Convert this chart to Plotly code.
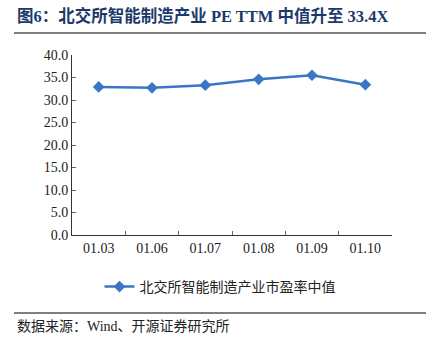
import plotly.graph_objects as go

categories = ["01.03", "01.06", "01.07", "01.08", "01.09", "01.10"]
pe_median = [32.9, 32.7, 33.3, 34.6, 35.5, 33.4]
series_name = "北交所智能制造产业市盈率中值"
title_text = "图6：北交所智能制造产业 PE TTM 中值升至 33.4X"
source_text = "数据来源：Wind、开源证券研究所"

L, R, T, B = 72, 40, 55, 117
W, H = 432, 352
pw, ph = W - L - R, H - T - B

def px(x):
    return (x - L) / pw

def py(y):
    return (H - B - y) / ph

fig = go.Figure()
fig.add_trace(go.Scatter(
    x=categories, y=pe_median, mode="lines+markers", name=series_name,
    line=dict(color="#3A76C4", width=2.5),
    marker=dict(symbol="diamond", size=9, color="#3A76C4"),
))

fig.update_layout(
    width=W, height=H,
    margin=dict(l=L, r=R, t=T, b=B),
    paper_bgcolor="white", plot_bgcolor="white",
    showlegend=True,
    legend=dict(orientation="h", x=px(220), xanchor="center", y=py(287), yanchor="middle",
                font=dict(family="Noto Sans CJK SC", size=14, color="#222"),
                itemwidth=30),
    xaxis=dict(type="category", range=[-0.5, 5.5], showline=True, linecolor="#333",
               linewidth=1, ticks="inside", tickson="boundaries", ticklen=4,
               tickcolor="#666", showgrid=False,
               tickfont=dict(family="Liberation Serif", size=14, color="#222")),
    yaxis=dict(range=[0, 40], dtick=5, tickformat=".1f", showline=True, linecolor="#333",
               linewidth=1, ticks="inside", ticklen=4, tickcolor="#666", showgrid=False,
               zeroline=False,
               tickfont=dict(family="Liberation Serif", size=14, color="#222")),
    annotations=[
        dict(text="<b>" + title_text + "</b>", xref="paper", yref="paper",
             x=px(15), y=py(16), xanchor="left", yanchor="middle", showarrow=False,
             font=dict(family="Liberation Serif, Noto Sans CJK SC", size=16.5, color="#1B3A6B")),
        dict(text=source_text, xref="paper", yref="paper",
             x=px(15), y=py(326), xanchor="left", yanchor="middle", showarrow=False,
             font=dict(family="Liberation Serif, Noto Sans CJK SC", size=14, color="#222")),
    ],
    shapes=[
        dict(type="line", xref="paper", yref="paper", x0=px(14), x1=px(426),
             y0=py(33), y1=py(33), line=dict(color="#555", width=1.5)),
        dict(type="line", xref="paper", yref="paper", x0=px(14), x1=px(426),
             y0=py(313), y1=py(313), line=dict(color="#555", width=1.5)),
    ],
)

fig.write_html("out.html")
